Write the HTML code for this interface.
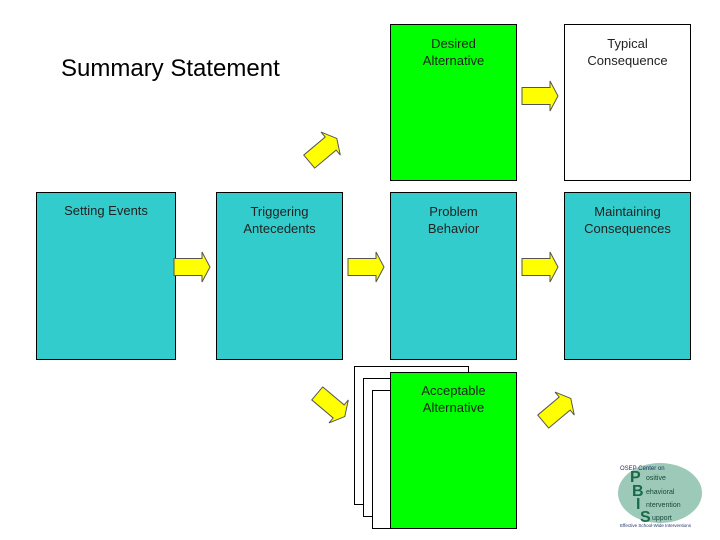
<!DOCTYPE html>
<html><head><style>
body{margin:0;width:720px;height:540px;background:#fff;position:relative;overflow:hidden;font-family:"Liberation Sans",sans-serif;}
.b{position:absolute;border:1px solid #000;box-sizing:border-box;text-align:center;font-size:13px;color:#222;padding-top:10px;line-height:17px;}
.t{background:#33cccc}.g{background:#00ff00}.w{background:#fff}
</style></head><body>
<div style="position:absolute;left:61px;top:55px;font-size:24px;color:#000">Summary Statement</div>
<div class="b t" style="left:36px;top:192px;width:140px;height:168px;padding-top:9px">Setting Events</div>
<div class="b t" style="left:216px;top:192px;width:127px;height:168px">Triggering<br>Antecedents</div>
<div class="b t" style="left:390px;top:192px;width:127px;height:168px">Problem<br>Behavior</div>
<div class="b t" style="left:564px;top:192px;width:127px;height:168px">Maintaining<br>Consequences</div>
<div class="b g" style="left:390px;top:24px;width:127px;height:157px">Desired<br>Alternative</div>
<div class="b w" style="left:564px;top:24px;width:127px;height:157px">Typical<br>Consequence</div>
<div class="b w" style="left:354px;top:366px;width:115px;height:139px"></div>
<div class="b w" style="left:363px;top:378px;width:115px;height:139px"></div>
<div class="b w" style="left:372px;top:390px;width:115px;height:139px"></div>
<div class="b g" style="left:390px;top:372px;width:127px;height:157px;padding-top:9px">Acceptable<br>Alternative</div>
<svg width="720" height="540" style="position:absolute;left:0;top:0">
<defs><polygon id="a" points="-18,-8.5 10,-8.5 10,-15 18,0 10,15 10,8.5 -18,8.5" fill="#ffff00" stroke="#555" stroke-width="1"/></defs>
<use href="#a" transform="translate(192,267)"/>
<use href="#a" transform="translate(366,267)"/>
<use href="#a" transform="translate(540,267)"/>
<use href="#a" transform="translate(540,96)"/>
<use href="#a" transform="translate(323,150) rotate(-40)"/>
<use href="#a" transform="translate(331,405) rotate(40)"/>
<use href="#a" transform="translate(557,410) rotate(-40)"/>
<ellipse cx="660" cy="493" rx="42" ry="30" fill="#9cc9b8"/>
<text x="620" y="470" font-size="6" fill="#236">OSEP Center on</text>
<text x="630" y="482" font-size="16" font-weight="bold" fill="#1a6a4a">P</text>
<text x="632" y="496" font-size="16" font-weight="bold" fill="#1a6a4a">B</text>
<text x="636" y="509" font-size="16" font-weight="bold" fill="#1a6a4a">I</text>
<text x="640" y="522" font-size="16" font-weight="bold" fill="#1a6a4a">S</text>
<text x="646" y="480" font-size="7" fill="#1a4a3a">ositive</text>
<text x="646" y="494" font-size="7" fill="#1a4a3a">ehavioral</text>
<text x="646" y="507" font-size="7" fill="#1a4a3a">ntervention</text>
<text x="652" y="520" font-size="7" fill="#1a4a3a">upport</text>
<text x="620" y="527" font-size="4.5" fill="#236">Effective School-Wide Interventions</text>
</svg>
</body></html>
